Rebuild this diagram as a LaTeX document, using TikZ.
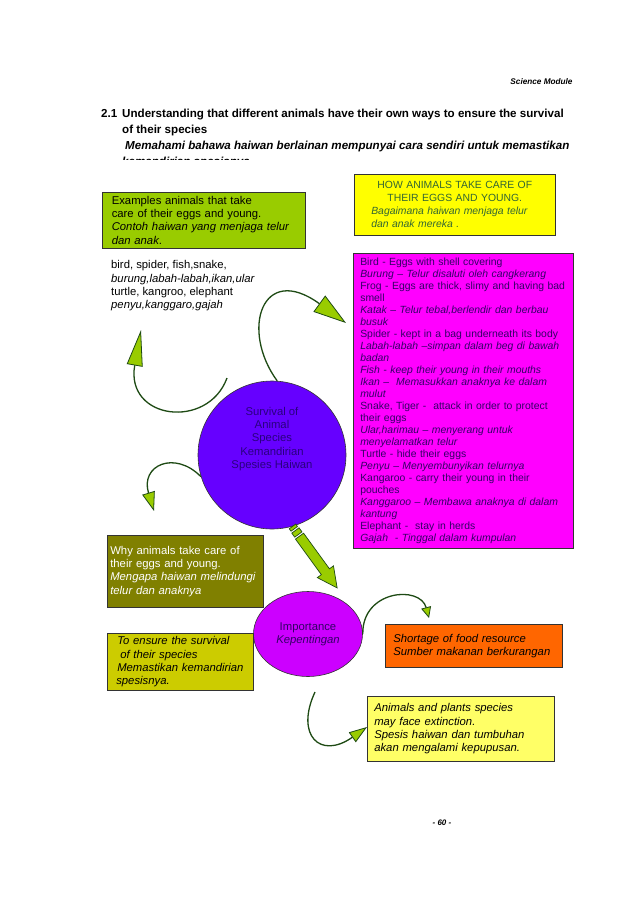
\documentclass[tikz,border=0pt]{standalone}
\usepackage{fontspec}
\setmainfont{Liberation Sans}
\usepackage{tikz}
\usetikzlibrary{arrows.meta,positioning,calc,shapes.geometric}
\definecolor{leafgreen}{HTML}{99CC00}
\definecolor{stemgreen}{HTML}{1E4A14}
\definecolor{howgreen}{HTML}{336633}
\definecolor{olivebox}{HTML}{808000}
\definecolor{mustard}{HTML}{CCCC00}
\definecolor{paleyellow}{HTML}{FFFF66}
\definecolor{brightyellow}{HTML}{FFFF00}
\definecolor{pinkbox}{HTML}{FF00FF}
\definecolor{tangerine}{HTML}{FF6600}
\definecolor{violetball}{HTML}{6600FF}
\definecolor{purpleball}{HTML}{CC00FF}
\definecolor{inkpurple}{HTML}{330066}
\definecolor{inkblue}{HTML}{2A0080}
\newcommand{\bodysize}{\fontsize{11.3}{13.3}\selectfont}
\newcommand{\howsize}{\fontsize{10.4}{13}\selectfont}
\newcommand{\listsize}{\fontsize{10.4}{12}\selectfont}
\newcommand{\headsize}{\fontsize{11.6}{16}\selectfont}

\begin{document}
\begin{tikzpicture}[x=1pt, y=-1pt, font=\bodysize,
  box/.style={draw=black!80, line width=0.6pt, anchor=north west, align=left, inner ysep=0pt},
  swirl/.style 2 args={draw=stemgreen, line width=1.3pt,
    -{Triangle[length=#1, width=#2, fill=leafgreen, line width=0.8pt]}}]
  \fill[white] (0,0) rectangle (638,903);
  % header
  \node[font=\fontsize{8.2}{10}\selectfont\bfseries\itshape, anchor=east] (module) at (576,82) {Science Module};
  \node[font=\headsize\bfseries, anchor=north west, inner sep=0pt] (num) at (101,109) {2.1};
  \begin{scope}
    \clip (0,0) rectangle (638,159);
    \node[font=\headsize\bfseries, anchor=north west, inner sep=0pt, align=left] (title) at (122,109)
      {Understanding that different animals have their own ways to ensure the survival\\
       of their species\\
       \textit{\hspace*{3pt}Memahami bahawa haiwan berlainan mempunyai cara sendiri untuk memastikan}\\
       \textit{kemandirian spesisnya}};
  \end{scope}

  % left column
  \node[box, fill=leafgreen, minimum width=203pt, minimum height=56pt, inner xsep=9.5pt, text width=184pt] (ex) at (102,192)
    {Examples animals that take\\care of their eggs and young.\\\textit{Contoh haiwan yang menjaga telur}\\\textit{dan anak}.};
  \node[anchor=north west, inner sep=0pt, align=left] (kinds) at (111,260.5)
    {bird, spider, fish,snake,\\\textit{burung,labah-labah,ikan,ular}\\turtle, kangroo, elephant\\\textit{penyu,kanggaro,gajah}};

  % right column
  \node[box, fill=brightyellow, text=howgreen, font=\howsize, minimum width=201pt, minimum height=61pt, inner xsep=10pt, text width=181pt] (how) at (354,174)
    {\makebox[\hsize][c]{HOW ANIMALS TAKE CARE OF}\\\makebox[\hsize][c]{THEIR EGGS AND YOUNG.}\\
     \hspace*{7pt}\textit{Bagaimana haiwan menjaga telur}\\\hspace*{7pt}\textit{dan anak mereka .}};
  \node[box, fill=pinkbox, text=inkpurple, font=\listsize, minimum width=220pt, minimum height=295pt, inner xsep=7pt, text width=206pt] (ways) at (353,253)
    {Bird - Eggs with shell covering\\
     \textit{Burung – Telur disaluti oleh cangkerang}\\
     Frog - Eggs are thick, slimy and having bad\\
     smell\\
     \textit{Katak – Telur tebal,berlendir dan berbau}\\
     \textit{busuk}\\
     Spider - kept in a bag underneath its body\\
     \textit{Labah-labah –simpan dalam beg di bawah}\\
     \textit{badan}\\
     \textit{Fish - keep their young in their mouths}\\
     \textit{Ikan – \ Memasukkan anaknya ke dalam}\\
     \textit{mulut}\\
     Snake, Tiger - \ attack in order to protect\\
     their eggs\\
     \textit{Ular,harimau – menyerang untuk}\\
     \textit{menyelamatkan telur}\\
     Turtle - hide their eggs\\
     \textit{Penyu – Menyembunyikan telurnya}\\
     Kangaroo - carry their young in their\\
     pouches\\
     \textit{Kanggaroo – Membawa anaknya di dalam}\\
     \textit{kantung}\\
     Elephant - \ stay in herds\\
     \textit{Gajah \ - Tinggal dalam kumpulan}};

  % centre
  \node[circle, draw=black!80, line width=0.6pt, fill=violetball, minimum size=148pt, inner sep=0pt,
        label={[text=inkblue, align=center, yshift=16pt]center:Survival of\\Animal\\Species\\Kemandirian\\Spesies Haiwan}] (surv) at (272,455) {};
  \node[box, fill=olivebox, text=white, minimum width=156pt, minimum height=72pt, inner xsep=3pt, text width=150pt] (why) at (107,535)
    {Why animals take care of\\their eggs and young.\\\textit{Mengapa haiwan melindungi}\\\textit{telur dan anaknya}};
  \node[ellipse, draw=black!80, line width=0.6pt, fill=purpleball, text=inkpurple, minimum width=109pt, minimum height=85pt,
        inner sep=0pt, align=center] (imp) at (308,634) {Importance\\\textit{Kepentingan}};
  \node[box, fill=mustard, font=\bodysize\itshape, minimum width=146pt, minimum height=57pt, inner xsep=3pt, text width=140pt] (ensure) at (107,633)
    {\hspace*{7pt}To ensure the survival\\\hspace*{10pt}of their species\\\hspace*{7pt}Memastikan kemandirian\\\hspace*{6pt}spesisnya.};
  \node[box, fill=tangerine, font=\bodysize\itshape, minimum width=177pt, minimum height=43pt, inner xsep=8pt, text width=161pt] (short) at (385,624)
    {Shortage of food resource\\Sumber makanan berkurangan};
  \node[box, fill=paleyellow, font=\bodysize\itshape, minimum width=187pt, minimum height=65pt, inner xsep=7pt, text width=173pt] (extinct) at (367,696)
    {Animals and plants species\\may face extinction.\\Spesis haiwan dan tumbuhan\\akan mengalami kepupusan.};
  \node[font=\fontsize{8}{10}\selectfont\bfseries\itshape] (page) at (442,823) {- 60 -};

  % thick arrow to Importance
  \coordinate (tail) at (surv.-74);
  \begin{scope}[shift={(tail)}, rotate=-54, fill=leafgreen, draw=stemgreen, line width=0.7pt]
    \filldraw (0,-4) rectangle (3,4);
    \filldraw (5,-4.5) rectangle (10,4.5);
    \filldraw (12,-5) -- (56,-5) -- (56,-10) -- (76,0) -- (56,10) -- (56,5) -- (12,5) -- cycle;
  \end{scope}

  % curved arrows
  \coordinate (careend) at (346,323);
  \coordinate (kindstart) at (227,378);
  \coordinate (kindend) at (141,330);
  \coordinate (whyend) at (154,511);
  \coordinate (shortend) at (429,618);
  \coordinate (extstart) at (315,692);
  \coordinate (extend) at (367,727);
  \draw[swirl={33pt}{20pt}] (surv.86) .. controls (240,330) and (262,262) .. (careend);
  \draw[swirl={36pt}{16pt}] (kindstart) .. controls (208,430) and (125,420) .. (kindend);
  \draw[swirl={19pt}{13pt}] (surv.197) .. controls (175,450) and (140,465) .. (whyend);
  \draw[swirl={11pt}{10pt}] (imp.east) .. controls (362,590) and (420,585) .. (shortend);
  \draw[swirl={18pt}{12pt}] (extstart) .. controls (295,735) and (320,760) .. (extend);
\end{tikzpicture}
\end{document}
